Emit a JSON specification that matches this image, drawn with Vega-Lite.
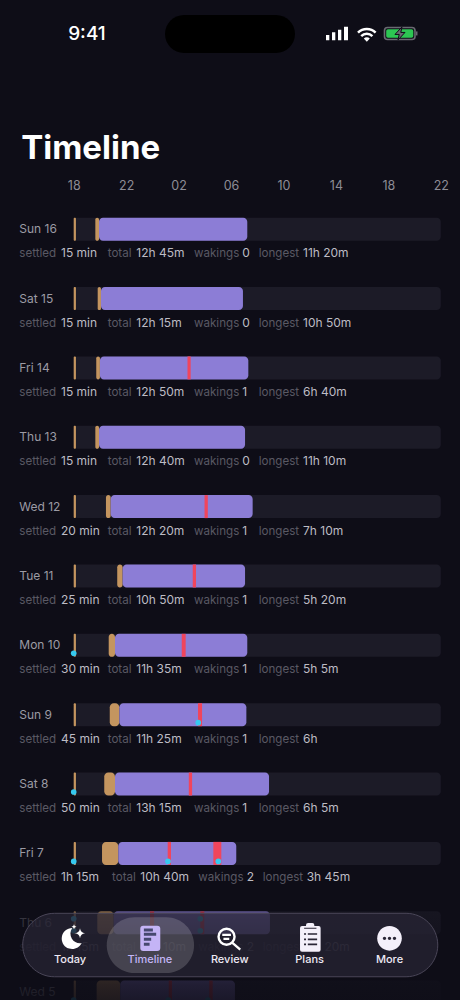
{"$schema":"https://vega.github.io/schema/vega-lite/v6.json","width":460,"height":1000,"padding":0,"autosize":"none","background":"#0e0d17","config":{"view":{"stroke":null},"text":{"font":"Inter"},"axis":{"labelFont":"Inter"}},"data":{"values":[{}]},"datasets":{"days":[{"date":"Sun 16","row":0,"bed":18,"bedEnd":18.17,"settle":19.65,"sleep":19.93,"wake":31.24},{"date":"Sat 15","row":1,"bed":18,"bedEnd":18.17,"settle":19.83,"sleep":20.08,"wake":30.91},{"date":"Fri 14","row":2,"bed":18,"bedEnd":18.17,"settle":19.72,"sleep":20.0,"wake":31.32},{"date":"Thu 13","row":3,"bed":18,"bedEnd":18.17,"settle":19.65,"sleep":19.93,"wake":31.07},{"date":"Wed 12","row":4,"bed":18,"bedEnd":18.17,"settle":20.46,"sleep":20.82,"wake":31.65},{"date":"Tue 11","row":5,"bed":18,"bedEnd":18.17,"settle":21.32,"sleep":21.73,"wake":31.07},{"date":"Mon 10","row":6,"bed":18,"bedEnd":18.17,"settle":20.67,"sleep":21.15,"wake":31.24},{"date":"Sun 9","row":7,"bed":18,"bedEnd":18.17,"settle":20.75,"sleep":21.48,"wake":31.17},{"date":"Sat 8","row":8,"bed":18,"bedEnd":18.17,"settle":20.33,"sleep":21.15,"wake":32.90},{"date":"Fri 7","row":9,"bed":18,"bedEnd":18.17,"settle":20.16,"sleep":21.40,"wake":30.40},{"date":"Thu 6","row":10,"bed":18,"bedEnd":18.17,"settle":19.80,"sleep":21.05,"wake":32.97},{"date":"Wed 5","row":11,"bed":18,"bedEnd":18.17,"settle":19.75,"sleep":21.55,"wake":30.30}],"wakes":[{"row":2,"start":26.68,"end":26.92},{"row":4,"start":27.98,"end":28.23},{"row":5,"start":27.08,"end":27.33},{"row":6,"start":26.24,"end":26.54},{"row":7,"start":27.48,"end":27.79},{"row":8,"start":26.78,"end":27.03},{"row":9,"start":25.17,"end":25.42},{"row":9,"start":28.65,"end":29.26},{"row":10,"start":23.82,"end":24.13},{"row":10,"start":27.66,"end":27.96},{"row":11,"start":25.25,"end":25.50},{"row":11,"start":28.34,"end":28.60}],"dots":[{"row":6,"hour":18,"side":"bottom"},{"row":7,"hour":27.5,"side":"bottom"},{"row":8,"hour":18,"side":"bottom"},{"row":9,"hour":18,"side":"bottom"},{"row":9,"hour":25.19,"side":"bottom"},{"row":9,"hour":29.03,"side":"bottom"},{"row":10,"hour":18,"side":"bottom"},{"row":10,"hour":18,"side":"top"},{"row":10,"hour":27.66,"side":"bottom"},{"row":10,"hour":27.66,"side":"top"},{"row":11,"hour":18,"side":"bottom"},{"row":11,"hour":25.22,"side":"bottom"},{"row":11,"hour":28.24,"side":"bottom"}],"pieces":[{"row":0,"slot":0,"kind":"label","text":"settled"},{"row":0,"slot":1,"kind":"value","text":"15 min"},{"row":0,"slot":2,"kind":"label","text":"total"},{"row":0,"slot":3,"kind":"value","text":"12h 45m"},{"row":0,"slot":4,"kind":"label","text":"wakings"},{"row":0,"slot":5,"kind":"value","text":"0"},{"row":0,"slot":6,"kind":"label","text":"longest"},{"row":0,"slot":7,"kind":"value","text":"11h 20m"},{"row":1,"slot":0,"kind":"label","text":"settled"},{"row":1,"slot":1,"kind":"value","text":"15 min"},{"row":1,"slot":2,"kind":"label","text":"total"},{"row":1,"slot":3,"kind":"value","text":"12h 15m"},{"row":1,"slot":4,"kind":"label","text":"wakings"},{"row":1,"slot":5,"kind":"value","text":"0"},{"row":1,"slot":6,"kind":"label","text":"longest"},{"row":1,"slot":7,"kind":"value","text":"10h 50m"},{"row":2,"slot":0,"kind":"label","text":"settled"},{"row":2,"slot":1,"kind":"value","text":"15 min"},{"row":2,"slot":2,"kind":"label","text":"total"},{"row":2,"slot":3,"kind":"value","text":"12h 50m"},{"row":2,"slot":4,"kind":"label","text":"wakings"},{"row":2,"slot":5,"kind":"value","text":"1"},{"row":2,"slot":6,"kind":"label","text":"longest"},{"row":2,"slot":7,"kind":"value","text":"6h 40m"},{"row":3,"slot":0,"kind":"label","text":"settled"},{"row":3,"slot":1,"kind":"value","text":"15 min"},{"row":3,"slot":2,"kind":"label","text":"total"},{"row":3,"slot":3,"kind":"value","text":"12h 40m"},{"row":3,"slot":4,"kind":"label","text":"wakings"},{"row":3,"slot":5,"kind":"value","text":"0"},{"row":3,"slot":6,"kind":"label","text":"longest"},{"row":3,"slot":7,"kind":"value","text":"11h 10m"},{"row":4,"slot":0,"kind":"label","text":"settled"},{"row":4,"slot":1,"kind":"value","text":"20 min"},{"row":4,"slot":2,"kind":"label","text":"total"},{"row":4,"slot":3,"kind":"value","text":"12h 20m"},{"row":4,"slot":4,"kind":"label","text":"wakings"},{"row":4,"slot":5,"kind":"value","text":"1"},{"row":4,"slot":6,"kind":"label","text":"longest"},{"row":4,"slot":7,"kind":"value","text":"7h 10m"},{"row":5,"slot":0,"kind":"label","text":"settled"},{"row":5,"slot":1,"kind":"value","text":"25 min"},{"row":5,"slot":2,"kind":"label","text":"total"},{"row":5,"slot":3,"kind":"value","text":"10h 50m"},{"row":5,"slot":4,"kind":"label","text":"wakings"},{"row":5,"slot":5,"kind":"value","text":"1"},{"row":5,"slot":6,"kind":"label","text":"longest"},{"row":5,"slot":7,"kind":"value","text":"5h 20m"},{"row":6,"slot":0,"kind":"label","text":"settled"},{"row":6,"slot":1,"kind":"value","text":"30 min"},{"row":6,"slot":2,"kind":"label","text":"total"},{"row":6,"slot":3,"kind":"value","text":"11h 35m"},{"row":6,"slot":4,"kind":"label","text":"wakings"},{"row":6,"slot":5,"kind":"value","text":"1"},{"row":6,"slot":6,"kind":"label","text":"longest"},{"row":6,"slot":7,"kind":"value","text":"5h 5m"},{"row":7,"slot":0,"kind":"label","text":"settled"},{"row":7,"slot":1,"kind":"value","text":"45 min"},{"row":7,"slot":2,"kind":"label","text":"total"},{"row":7,"slot":3,"kind":"value","text":"11h 25m"},{"row":7,"slot":4,"kind":"label","text":"wakings"},{"row":7,"slot":5,"kind":"value","text":"1"},{"row":7,"slot":6,"kind":"label","text":"longest"},{"row":7,"slot":7,"kind":"value","text":"6h"},{"row":8,"slot":0,"kind":"label","text":"settled"},{"row":8,"slot":1,"kind":"value","text":"50 min"},{"row":8,"slot":2,"kind":"label","text":"total"},{"row":8,"slot":3,"kind":"value","text":"13h 15m"},{"row":8,"slot":4,"kind":"label","text":"wakings"},{"row":8,"slot":5,"kind":"value","text":"1"},{"row":8,"slot":6,"kind":"label","text":"longest"},{"row":8,"slot":7,"kind":"value","text":"6h 5m"},{"row":9,"slot":0,"kind":"label","text":"settled"},{"row":9,"slot":1,"kind":"value","text":"1h 15m"},{"row":9,"slot":10,"kind":"label","text":"total"},{"row":9,"slot":11,"kind":"value","text":"10h 40m"},{"row":9,"slot":12,"kind":"label","text":"wakings"},{"row":9,"slot":13,"kind":"value","text":"2"},{"row":9,"slot":14,"kind":"label","text":"longest"},{"row":9,"slot":15,"kind":"value","text":"3h 45m"},{"row":10,"slot":0,"kind":"label","text":"settled"},{"row":10,"slot":1,"kind":"value","text":"1h 15m"},{"row":10,"slot":10,"kind":"label","text":"total"},{"row":10,"slot":11,"kind":"value","text":"13h 10m"},{"row":10,"slot":12,"kind":"label","text":"wakings"},{"row":10,"slot":13,"kind":"value","text":"2"},{"row":10,"slot":14,"kind":"label","text":"longest"},{"row":10,"slot":15,"kind":"value","text":"5h 20m"}],"nav":[{"item":"Today"},{"item":"Timeline"},{"item":"Review"},{"item":"Plans"},{"item":"More"}]},"resolve":{"scale":{"x":"independent"}},"layer":[{"layer":[{"data":{"name":"days"},"mark":{"type":"bar","height":23,"cornerRadius":4,"fill":"#1c1b27"},"encoding":{"x":{"datum":18,"type":"quantitative","scale":{"domain":[12.378,47.466],"range":[0,460],"nice":false,"zero":false},"axis":{"orient":"top","offset":-194,"values":[18,22,26,30,34,38,42,46],"labelExpr":"format(datum.value % 24, '02')","ticks":false,"domain":false,"grid":false,"title":null,"labelFontSize":12.5,"labelColor":"#8d8c95","labelPadding":2,"labelFlush":false,"labelOverlap":false}},"x2":{"datum":46},"y":{"field":"row","type":"quantitative","scale":{"domain":[-3.305,11.114],"range":[0,1000],"nice":false,"zero":false,"padding":0},"axis":null}}},{"data":{"name":"days"},"mark":{"type":"bar","height":23,"cornerRadius":1,"fill":"#c4955f"},"encoding":{"x":{"field":"bed","type":"quantitative"},"x2":{"field":"bedEnd"},"y":{"field":"row","type":"quantitative","scale":{"domain":[-3.305,11.114],"range":[0,1000],"nice":false,"zero":false,"padding":0},"axis":null}}},{"data":{"name":"days"},"mark":{"type":"bar","height":23,"cornerRadius":4,"fill":"#c4955f"},"encoding":{"x":{"field":"settle","type":"quantitative"},"x2":{"field":"sleep"},"y":{"field":"row","type":"quantitative","scale":{"domain":[-3.305,11.114],"range":[0,1000],"nice":false,"zero":false,"padding":0},"axis":null}}},{"data":{"name":"days"},"mark":{"type":"bar","height":23,"cornerRadius":4,"fill":"#8c7dd6"},"encoding":{"x":{"field":"sleep","type":"quantitative"},"x2":{"field":"wake"},"y":{"field":"row","type":"quantitative","scale":{"domain":[-3.305,11.114],"range":[0,1000],"nice":false,"zero":false,"padding":0},"axis":null}}},{"data":{"name":"wakes"},"mark":{"type":"bar","height":23,"fill":"#f0455c"},"encoding":{"x":{"field":"start","type":"quantitative"},"x2":{"field":"end"},"y":{"field":"row","type":"quantitative","scale":{"domain":[-3.305,11.114],"range":[0,1000],"nice":false,"zero":false,"padding":0},"axis":null}}},{"data":{"name":"dots"},"transform":[{"filter":"datum.side == 'bottom'"}],"mark":{"type":"circle","size":32,"opacity":1,"fill":"#36c9ef","yOffset":8},"encoding":{"x":{"field":"hour","type":"quantitative"},"y":{"field":"row","type":"quantitative","scale":{"domain":[-3.305,11.114],"range":[0,1000],"nice":false,"zero":false,"padding":0},"axis":null}}},{"data":{"name":"dots"},"transform":[{"filter":"datum.side == 'top'"}],"mark":{"type":"circle","size":32,"opacity":1,"fill":"#36c9ef","yOffset":-4},"encoding":{"x":{"field":"hour","type":"quantitative"},"y":{"field":"row","type":"quantitative","scale":{"domain":[-3.305,11.114],"range":[0,1000],"nice":false,"zero":false,"padding":0},"axis":null}}},{"mark":{"type":"text","text":"Timeline","font":"Inter","fontSize":33,"fontWeight":700,"fill":"#ffffff","align":"left","baseline":"alphabetic"},"encoding":{"x":{"datum":14.0,"type":"quantitative"},"y":{"datum":-1.012,"type":"quantitative","scale":{"domain":[-3.305,11.114],"range":[0,1000],"nice":false,"zero":false,"padding":0},"axis":null}}}]},{"layer":[{"data":{"name":"days"},"mark":{"type":"text","fontSize":12,"fill":"#9c9ba4","align":"left","baseline":"middle"},"encoding":{"x":{"datum":0,"type":"quantitative","scale":{"type":"linear","domain":[0,1,2,3,4,5,6,7,10,11,12,13,14,15],"range":[19.3,61,107.7,136.3,194,242.3,258.7,303,112,140.3,198.3,246.7,262.7,306.7],"nice":false,"zero":false},"axis":null},"y":{"field":"row","type":"quantitative","scale":{"domain":[-3.305,11.114],"range":[0,1000],"nice":false,"zero":false,"padding":0},"axis":null},"text":{"field":"date"},"opacity":{"condition":{"test":"datum.row == 10","value":0.5},"value":1}}},{"data":{"name":"pieces"},"mark":{"type":"text","align":"left","baseline":"alphabetic","dy":28},"encoding":{"x":{"field":"slot","type":"quantitative"},"y":{"field":"row","type":"quantitative","scale":{"domain":[-3.305,11.114],"range":[0,1000],"nice":false,"zero":false,"padding":0},"axis":null},"text":{"field":"text"},"size":{"field":"kind","type":"nominal","scale":{"domain":["label","value"],"range":[11.6,12]},"legend":null},"color":{"field":"kind","type":"nominal","scale":{"domain":["label","value"],"range":["#5a5964","#bdbcc4"]},"legend":null},"opacity":{"condition":{"test":"datum.row == 10","value":0.5},"value":1}}}]},{"layer":[{"mark":{"type":"rect","fill":{"gradient":"linear","x1":0,"y1":0,"x2":0,"y2":1,"stops":[{"offset":0,"color":"rgba(14,13,23,0)"},{"offset":0.25,"color":"rgba(14,13,23,0.42)"},{"offset":0.87,"color":"rgba(14,13,23,0.85)"},{"offset":1,"color":"rgba(14,13,23,0.9)"}]}},"encoding":{"x":{"datum":12.378,"type":"quantitative","scale":{"domain":[12.378,47.466],"range":[0,460],"nice":false,"zero":false},"axis":null},"x2":{"datum":47.466},"y":{"datum":9.456,"type":"quantitative","scale":{"domain":[-3.305,11.114],"range":[0,1000],"nice":false,"zero":false,"padding":0},"axis":null},"y2":{"datum":11.114}}},{"mark":{"type":"rect","fill":"#000000","cornerRadius":19},"encoding":{"x":{"datum":24.964,"type":"quantitative"},"x2":{"datum":34.88},"y":{"datum":-3.089,"type":"quantitative","scale":{"domain":[-3.305,11.114],"range":[0,1000],"nice":false,"zero":false,"padding":0},"axis":null},"y2":{"datum":-2.541}}},{"mark":{"type":"rect","fill":"#2a2636","fillOpacity":0.68,"stroke":"#4a4658","strokeWidth":1,"cornerRadius":31.7},"encoding":{"x":{"datum":14.11,"type":"quantitative"},"x2":{"datum":45.77},"y":{"datum":9.864,"type":"quantitative","scale":{"domain":[-3.305,11.114],"range":[0,1000],"nice":false,"zero":false,"padding":0},"axis":null},"y2":{"datum":10.779}}},{"mark":{"type":"rect","fill":"#ffffff","fillOpacity":0.17,"cornerRadius":27.8},"encoding":{"x":{"datum":20.52,"type":"quantitative"},"x2":{"datum":27.18},"y":{"datum":9.922,"type":"quantitative","scale":{"domain":[-3.305,11.114],"range":[0,1000],"nice":false,"zero":false,"padding":0},"axis":null},"y2":{"datum":10.725}}},{"mark":{"type":"text","text":"9:41","font":"Inter","fontSize":19,"fontWeight":500,"fill":"#ffffff","align":"center","baseline":"middle"},"encoding":{"x":{"datum":19.01,"type":"quantitative"},"y":{"datum":-2.815,"type":"quantitative","scale":{"domain":[-3.305,11.114],"range":[0,1000],"nice":false,"zero":false,"padding":0},"axis":null}}},{"mark":{"type":"point","filled":true,"size":4,"opacity":1,"fill":"#ffffff","strokeWidth":0,"shape":"M-11 1h3.3v5.3h-3.3z M-5 -1.7h3.3v8h-3.3z M1 -4.3h3.3v10.6h-3.3z M7 -7.3h4v13.6h-4z"},"encoding":{"x":{"datum":38.084,"type":"quantitative"},"y":{"datum":-2.815,"type":"quantitative","scale":{"domain":[-3.305,11.114],"range":[0,1000],"nice":false,"zero":false,"padding":0},"axis":null}}},{"mark":{"type":"point","filled":true,"size":4,"opacity":1,"fill":"#ffffff","strokeWidth":0,"shape":"M0 0.3 L-3 -3 A4.3 4.3 0 0 1 3 -3Z"},"encoding":{"x":{"datum":40.357,"type":"quantitative"},"y":{"datum":-2.707,"type":"quantitative","scale":{"domain":[-3.305,11.114],"range":[0,1000],"nice":false,"zero":false,"padding":0},"axis":null}}},{"mark":{"type":"point","filled":false,"size":4,"opacity":1,"stroke":"#ffffff","strokeWidth":2.5,"shape":"M-8.8 -8.8 A12.4 12.4 0 0 1 8.8 -8.8 M-5.6 -5.4 A8 8 0 0 1 5.6 -5.4"},"encoding":{"x":{"datum":40.357,"type":"quantitative"},"y":{"datum":-2.707,"type":"quantitative","scale":{"domain":[-3.305,11.114],"range":[0,1000],"nice":false,"zero":false,"padding":0},"axis":null}}},{"mark":{"type":"point","filled":false,"size":4,"opacity":1,"stroke":"#6a6a72","strokeWidth":1.6,"shape":"M-12.5 -6 H12 Q15 -6 15 -3 V3 Q15 6 12 6 H-12.5 Q-15.5 6 -15.5 3 V-3 Q-15.5 -6 -12.5 -6Z"},"encoding":{"x":{"datum":42.889,"type":"quantitative"},"y":{"datum":-2.823,"type":"quantitative","scale":{"domain":[-3.305,11.114],"range":[0,1000],"nice":false,"zero":false,"padding":0},"axis":null}}},{"mark":{"type":"point","filled":true,"size":4,"opacity":1,"fill":"#2dc653","strokeWidth":0,"shape":"M-12 -4.3 H11.5 Q13.3 -4.3 13.3 -2.5 V2.5 Q13.3 4.3 11.5 4.3 H-12 Q-13.8 4.3 -13.8 2.5 V-2.5 Q-13.8 -4.3 -12 -4.3Z"},"encoding":{"x":{"datum":42.889,"type":"quantitative"},"y":{"datum":-2.823,"type":"quantitative","scale":{"domain":[-3.305,11.114],"range":[0,1000],"nice":false,"zero":false,"padding":0},"axis":null}}},{"mark":{"type":"point","filled":true,"size":4,"opacity":1,"fill":"#6a6a72","stroke":"#0e0d17","strokeWidth":1,"shape":"M2 -6.5 L-5 1 L-0.8 1 L-2 6.5 L5 -1 L0.8 -1 Z"},"encoding":{"x":{"datum":42.889,"type":"quantitative"},"y":{"datum":-2.823,"type":"quantitative","scale":{"domain":[-3.305,11.114],"range":[0,1000],"nice":false,"zero":false,"padding":0},"axis":null}}},{"mark":{"type":"point","filled":true,"size":4,"opacity":1,"fill":"#6a6a72","strokeWidth":0,"shape":"M16 -2 H17.5 V2 H16Z"},"encoding":{"x":{"datum":42.889,"type":"quantitative"},"y":{"datum":-2.823,"type":"quantitative","scale":{"domain":[-3.305,11.114],"range":[0,1000],"nice":false,"zero":false,"padding":0},"axis":null}}}]},{"layer":[{"data":{"name":"nav"},"mark":{"type":"text","fontSize":11,"fontWeight":500,"align":"center","baseline":"middle"},"encoding":{"x":{"field":"item","type":"nominal","sort":null,"scale":{"type":"point","domain":["Today","Timeline","Review","Plans","More"],"range":[70,389.5],"padding":0},"axis":null},"y":{"datum":10.538,"type":"quantitative","scale":{"domain":[-3.305,11.114],"range":[0,1000],"nice":false,"zero":false,"padding":0},"axis":null},"text":{"field":"item"},"color":{"condition":{"test":"datum.item == 'Timeline'","value":"#c3b5f5"},"value":"#eeeaf5"}}},{"mark":{"type":"point","filled":true,"size":4,"opacity":1,"fill":"#ffffff","strokeWidth":0,"shape":"M2.3 -10 A10.5 10.5 0 1 0 11.7 5 A9.5 9.5 0 0 1 2.3 -10 Z M10 -9.7 Q10.6 -5.3 15 -4.7 Q10.6 -4.1 10 0.3 Q9.4 -4.1 5 -4.7 Q9.4 -5.3 10 -9.7Z M4 -13.8 Q4.3 -11.6 6.5 -11.3 Q4.3 -11 4 -8.8 Q3.7 -11 1.5 -11.3 Q3.7 -11.6 4 -13.8Z"},"encoding":{"x":{"datum":"Today","type":"nominal"},"y":{"datum":10.221,"type":"quantitative","scale":{"domain":[-3.305,11.114],"range":[0,1000],"nice":false,"zero":false,"padding":0},"axis":null}}},{"mark":{"type":"point","filled":true,"size":4,"opacity":1,"fill":"#c4b4f6","strokeWidth":0,"shape":"M-6.6 -12.3 H7.4 Q10.4 -12.3 10.4 -9.3 V10 Q10.4 13 7.4 13 H-6.6 Q-9.6 13 -9.6 10 V-9.3 Q-9.6 -12.3 -6.6 -12.3Z"},"encoding":{"x":{"datum":"Timeline","type":"nominal"},"y":{"datum":10.221,"type":"quantitative","scale":{"domain":[-3.305,11.114],"range":[0,1000],"nice":false,"zero":false,"padding":0},"axis":null}}},{"mark":{"type":"point","filled":true,"size":4,"opacity":1,"fill":"#46486f","strokeWidth":0,"shape":"M-6 -9.5h9v3h-9z M-6 -5.2h12.3v3h-12.3z M-6 -0.2h7.3v3h-7.3z M-6 4.8h5.7v3h-5.7z"},"encoding":{"x":{"datum":"Timeline","type":"nominal"},"y":{"datum":10.221,"type":"quantitative","scale":{"domain":[-3.305,11.114],"range":[0,1000],"nice":false,"zero":false,"padding":0},"axis":null}}},{"mark":{"type":"point","filled":false,"size":4,"opacity":1,"stroke":"#ffffff","strokeWidth":2.4,"shape":"M-11.2 -1.3 A8 8 0 1 1 4.8 -1.3 A8 8 0 1 1 -11.2 -1.3 M3 5 L10.5 11.5 M-7.5 -3.2 H1.2 M-6.3 0.8 H-0.5"},"encoding":{"x":{"datum":"Review","type":"nominal"},"y":{"datum":10.221,"type":"quantitative","scale":{"domain":[-3.305,11.114],"range":[0,1000],"nice":false,"zero":false,"padding":0},"axis":null}}},{"mark":{"type":"point","filled":true,"size":4,"opacity":1,"fill":"#f4f0fa","strokeWidth":0,"shape":"M-7.6 -12 H-3.6 V-13 Q-3.6 -15 -1.5 -15 H2.7 Q4.7 -15 4.7 -13 V-12 H9 Q11 -12 11 -10 V11.7 Q11 13.7 9 13.7 H-7.6 Q-9.6 13.7 -9.6 11.7 V-10 Q-9.6 -12 -7.6 -12Z"},"encoding":{"x":{"datum":"Plans","type":"nominal"},"y":{"datum":10.221,"type":"quantitative","scale":{"domain":[-3.305,11.114],"range":[0,1000],"nice":false,"zero":false,"padding":0},"axis":null}}},{"mark":{"type":"point","filled":true,"size":4,"opacity":1,"fill":"#2a2636","strokeWidth":0,"shape":"M-5.5 -10.2h12.3v1h-12.3z M-5.6 -4.8h2v1.6h-2z M-1.8 -4.8h9.3v1.6h-9.3z M-5.6 0.5h2v1.6h-2z M-1.8 0.5h9.3v1.6h-9.3z M-5.6 5.5h2v1.6h-2z M-1.8 5.5h9.3v1.6h-9.3z"},"encoding":{"x":{"datum":"Plans","type":"nominal"},"y":{"datum":10.221,"type":"quantitative","scale":{"domain":[-3.305,11.114],"range":[0,1000],"nice":false,"zero":false,"padding":0},"axis":null}}},{"mark":{"type":"point","filled":true,"size":4,"opacity":1,"fill":"#f4f0fa","strokeWidth":0,"shape":"M-12.3 0.3 A12.3 12.3 0 1 1 12.3 0.3 A12.3 12.3 0 1 1 -12.3 0.3Z"},"encoding":{"x":{"datum":"More","type":"nominal"},"y":{"datum":10.221,"type":"quantitative","scale":{"domain":[-3.305,11.114],"range":[0,1000],"nice":false,"zero":false,"padding":0},"axis":null}}},{"mark":{"type":"point","filled":true,"size":4,"opacity":1,"fill":"#2a2636","strokeWidth":0,"shape":"M-6.7 0.3 A1.7 1.7 0 1 1 -3.3 0.3 A1.7 1.7 0 1 1 -6.7 0.3Z M-1.7 0.3 A1.7 1.7 0 1 1 1.7 0.3 A1.7 1.7 0 1 1 -1.7 0.3Z M3.3 0.3 A1.7 1.7 0 1 1 6.7 0.3 A1.7 1.7 0 1 1 3.3 0.3Z"},"encoding":{"x":{"datum":"More","type":"nominal"},"y":{"datum":10.221,"type":"quantitative","scale":{"domain":[-3.305,11.114],"range":[0,1000],"nice":false,"zero":false,"padding":0},"axis":null}}}]}]}
